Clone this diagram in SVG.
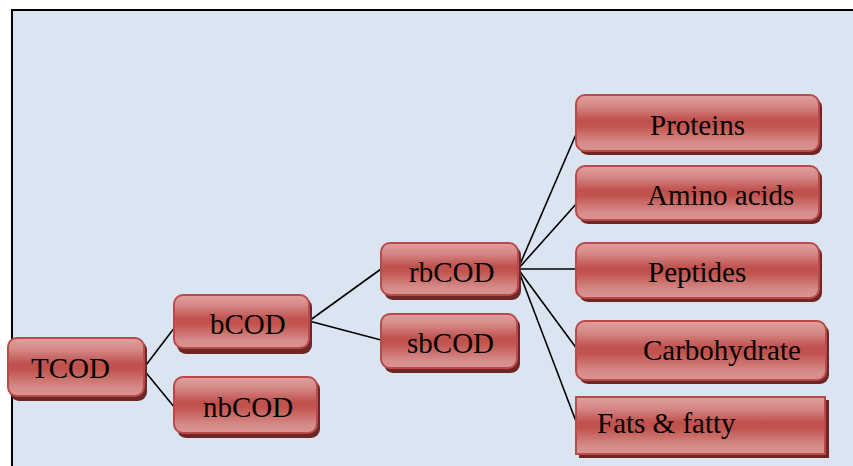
<svg xmlns="http://www.w3.org/2000/svg" width="853" height="466" viewBox="0 0 853 466">
<defs>
<linearGradient id="g" x1="0" y1="0" x2="0" y2="1">
<stop offset="0" stop-color="#e0a09e"/>
<stop offset="0.2" stop-color="#d58886"/>
<stop offset="0.45" stop-color="#c0504d"/>
<stop offset="0.55" stop-color="#c2544f"/>
<stop offset="0.85" stop-color="#d58b89"/>
<stop offset="1" stop-color="#d99594"/>
</linearGradient>
</defs>
<style>
.sh{fill:#6e2725}
.bx{fill:url(#g);stroke:#b9494a;stroke-width:2}
.t{font-family:"Liberation Serif","Times New Roman",serif;font-size:29px;fill:#000}
.c line{stroke:#000;stroke-width:1.6}
</style>
<rect x="0" y="0" width="853" height="466" fill="#fff"/>
<rect x="12" y="10" width="845" height="460" fill="#dbe5f1" stroke="#000" stroke-width="2"/>
<g class="c" id="connectors">
<line x1="143" y1="369" x2="175" y2="327"/>
<line x1="143" y1="369" x2="175" y2="408"/>
<line x1="309" y1="321" x2="381" y2="269"/>
<line x1="309" y1="321" x2="381" y2="340"/>
<line x1="518" y1="269" x2="577" y2="132"/>
<line x1="518" y1="269" x2="577" y2="203"/>
<line x1="518" y1="269" x2="577" y2="269"/>
<line x1="518" y1="269" x2="577" y2="349"/>
<line x1="518" y1="269" x2="577" y2="424"/>
</g>
<g id="TCOD"><rect class="sh" x="10" y="341" width="137" height="60" rx="9"/><rect class="bx" x="8" y="338" width="136" height="58" rx="9"/><text class="t" x="31" y="378">TCOD</text></g>
<g id="bCOD"><rect class="sh" x="177" y="298" width="135" height="56" rx="9"/><rect class="bx" x="174" y="295" width="135" height="53" rx="9"/><text class="t" x="210" y="334">bCOD</text></g>
<g id="nbCOD"><rect class="sh" x="177" y="380" width="143" height="58" rx="9"/><rect class="bx" x="174" y="377" width="143" height="56" rx="9"/><text class="t" x="203" y="417">nbCOD</text></g>
<g id="rbCOD"><rect class="sh" x="384" y="246" width="137" height="54" rx="9"/><rect class="bx" x="381" y="243" width="137" height="52" rx="9"/><text class="t" x="409" y="282">rbCOD</text></g>
<g id="sbCOD"><rect class="sh" x="384" y="317" width="136" height="56" rx="9"/><rect class="bx" x="381" y="314" width="136" height="54" rx="9"/><text class="t" x="407" y="353">sbCOD</text></g>
<g id="Proteins"><rect class="sh" x="579" y="98" width="243" height="57" rx="9"/><rect class="bx" x="576" y="95" width="243" height="56" rx="9"/><text class="t" x="650" y="135">Proteins</text></g>
<g id="Amino"><rect class="sh" x="579" y="169" width="243" height="55" rx="9"/><rect class="bx" x="576" y="166" width="243" height="54" rx="9"/><text class="t" x="647" y="205">Amino acids</text></g>
<g id="Peptides"><rect class="sh" x="579" y="246" width="243" height="56" rx="9"/><rect class="bx" x="576" y="243" width="243" height="55" rx="9"/><text class="t" x="648" y="282">Peptides</text></g>
<g id="Carbohydrate"><rect class="sh" x="579" y="324" width="250" height="60" rx="9"/><rect class="bx" x="576" y="321" width="250" height="59" rx="9"/><text class="t" x="643" y="360">Carbohydrate</text></g>
<g id="Fats"><rect class="sh" x="579" y="400" width="250" height="58"/><rect class="bx" x="576" y="397" width="249" height="57"/><text class="t" x="597" y="433">Fats &amp; fatty</text></g>
</svg>
